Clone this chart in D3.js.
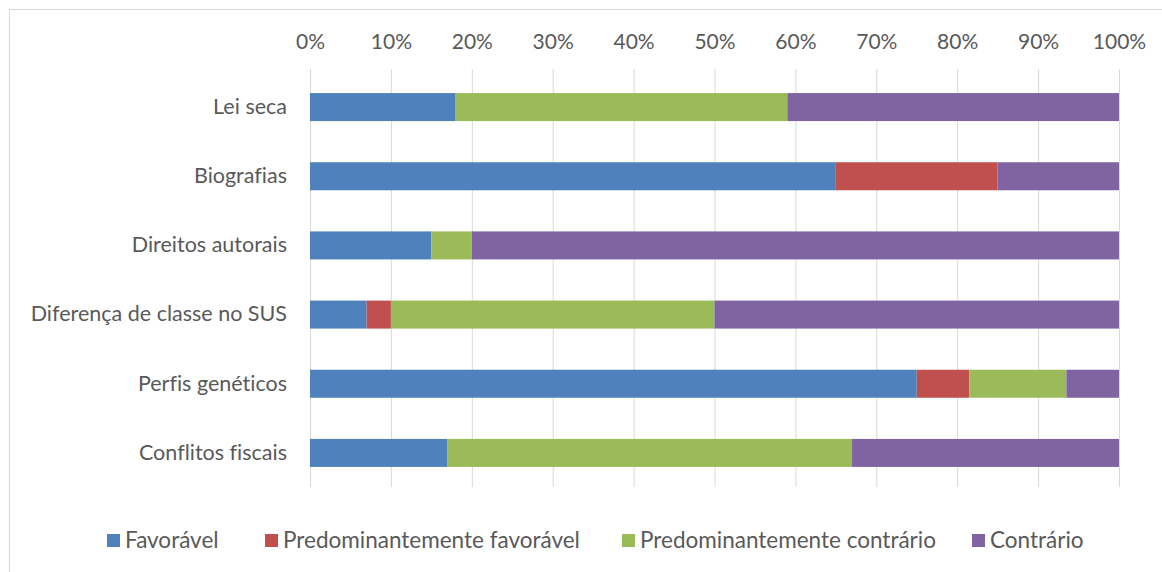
<!DOCTYPE html>
<html><head><meta charset="utf-8">
<script src="https://cdn.jsdelivr.net/npm/d3@7"></script>
<style>body{margin:0;background:#fff}svg{display:block}text{font-family:Lato,"Open Sans",sans-serif;fill:#595959;font-variant-ligatures:none}</style>
</head><body><svg id="c" width="1162" height="572"></svg>
<script>
const categories = ["Lei seca","Biografias","Direitos autorais","Diferença de classe no SUS","Perfis genéticos","Conflitos fiscais"];
const seriesNames = ["Favorável","Predominantemente favorável","Predominantemente contrário","Contrário"];
const favoravel = [18, 65, 15, 7, 75, 17];
const predFavoravel = [0, 20, 0, 3, 6.5, 0];
const predContrario = [41, 0, 5, 40, 12, 50];
const contrario = [41, 15, 80, 50, 6.5, 33];
const tickValues = [0,0.1,0.2,0.3,0.4,0.5,0.6,0.7,0.8,0.9,1];
const colors = ["#4f81bd","#c0504d","#9bbb59","#8064a2"];

const svg = d3.select("#c");
svg.append("rect").attr("x",9.5).attr("y",9.5).attr("width",1160).attr("height",570)
  .attr("fill","none").attr("stroke","#d9d9d9");

const x = d3.scaleLinear().domain([0,1]).range([310,1119]);
const y = d3.scaleBand().domain(categories).range([72.5,487.5]).paddingInner(0.595).paddingOuter(0.2975);

const rows = categories.map((c,i)=>({cat:c, Favorável:favoravel[i], "Predominantemente favorável":predFavoravel[i], "Predominantemente contrário":predContrario[i], "Contrário":contrario[i]}));
rows.forEach(r=>{const t=seriesNames.reduce((s,k)=>s+r[k],0); seriesNames.forEach(k=>r[k]=r[k]/t);});
const stack = d3.stack().keys(seriesNames)(rows);

// gridlines
svg.append("g").selectAll("line").data(tickValues).join("line")
  .attr("x1",d=>x(d)+0.5).attr("x2",d=>x(d)+0.5).attr("y1",69).attr("y2",487)
  .attr("stroke","#d9d9d9").attr("stroke-width",1);

// axis labels
const ax = svg.append("g").attr("transform","translate(0,42)")
  .call(d3.axisTop(x).tickValues(tickValues).tickFormat(d3.format(".0%")).tickSize(0).tickPadding(0));
ax.select(".domain").remove();
ax.selectAll("text").style("font-size","21px").attr("fill","#595959").attr("dy","0.35em");

// bars
svg.append("g").selectAll("g").data(stack).join("g").attr("fill",(d,i)=>colors[i])
  .selectAll("rect").data(d=>d).join("rect")
  .attr("x",d=>x(d[0])).attr("width",d=>x(d[1])-x(d[0]))
  .attr("y",d=>y(d.data.cat)).attr("height",y.bandwidth());

// category labels
const yl = svg.append("g").attr("transform","translate(287,0)")
  .call(d3.axisLeft(y).tickSize(0).tickPadding(0));
yl.select(".domain").remove();
yl.selectAll("text").style("font-size","21.5px").attr("fill","#595959");

// legend
const legX = [107, 265, 622, 972];
const leg = svg.append("g").selectAll("g").data(seriesNames).join("g")
  .attr("transform",(d,i)=>`translate(${legX[i]},540)`);
leg.append("rect").attr("x",0).attr("y",-6).attr("width",13).attr("height",13).attr("fill",(d,i)=>colors[i]);
leg.append("text").attr("x",18).attr("y",0).attr("dy","0.35em").style("font-size","22.5px").text(d=>d);
</script></body></html>
